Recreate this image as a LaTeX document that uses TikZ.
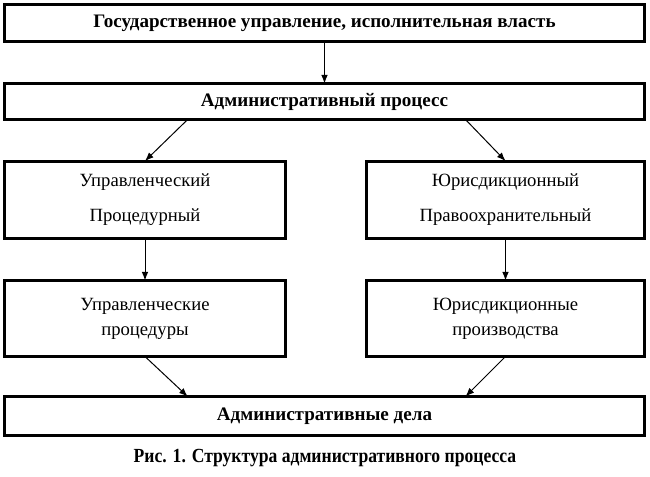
\documentclass[tikz,border=0pt]{standalone}
\usepackage{fontspec}
\setmainfont{Liberation Serif}
\newfontfamily\capfont[FakeStretch=0.88]{Liberation Serif}
\usetikzlibrary{arrows.meta}

\begin{document}
\begin{tikzpicture}[x=0.75pt,y=-0.75pt,
    box/.style={draw,line width=2.25pt,inner sep=0pt,outer sep=0pt,align=center,
      font=\fontsize{14}{18.75}\selectfont},
    arr/.style={-{Latex[length=6.5pt,width=5pt]},line width=0.75pt}]
      \useasboundingbox (0,0) rectangle (650,476);
      % Верхние блоки
      \node[box,minimum width=480pt,minimum height=27.75pt,font=\fontsize{14.3}{17}\selectfont\bfseries]
        (gos) at (324.5,23) {Государственное управление, исполнительная власть};
      \node[box,minimum width=480pt,minimum height=27pt,font=\fontsize{14.3}{17}\selectfont\bfseries]
        (proc) at (324.5,101.5) {Административный процесс};
      % Виды процесса
      \node[box,minimum width=210.75pt,minimum height=57.75pt] (upr) at (145,199.5)
        {Управленческий\\[8pt]Процедурный};
      \node[box,minimum width=208.5pt,minimum height=57.75pt] (jur) at (505.5,199.5)
        {Юрисдикционный\\[8pt]Правоохранительный};
      % Производства
      \node[box,minimum width=210.75pt,minimum height=57pt] (uprpr) at (145,318.5)
        {Управленческие\\процедуры};
      \node[box,minimum width=208.5pt,minimum height=57pt] (jurpr) at (505.5,318.5)
        {Юрисдикционные\\производства};
      % Нижний блок и подпись
      \node[box,minimum width=480pt,minimum height=29.25pt,font=\fontsize{14.3}{17}\selectfont\bfseries]
        (dela) at (324.5,416) {Административные дела};
      \node[font=\capfont\fontsize{15}{17}\selectfont\bfseries] (cap) at (325,458)
        {Рис. 1. Структура административного процесса};
      % Стрелки
      \draw[arr] (gos) -- (proc);
      \draw[arr] ([xshift=32pt]upr.north |- proc.south) -- (upr.north);
      \draw[arr] ([xshift=-30pt]jur.north |- proc.south) -- (jur.north);
      \draw[arr] (upr) -- (uprpr);
      \draw[arr] (jur) -- (jurpr);
      \draw[arr] (uprpr.south) -- ([xshift=32pt]uprpr.south |- dela.north);
      \draw[arr] (jurpr.south) -- ([xshift=-30pt]jurpr.south |- dela.north);
\end{tikzpicture}
\end{document}
